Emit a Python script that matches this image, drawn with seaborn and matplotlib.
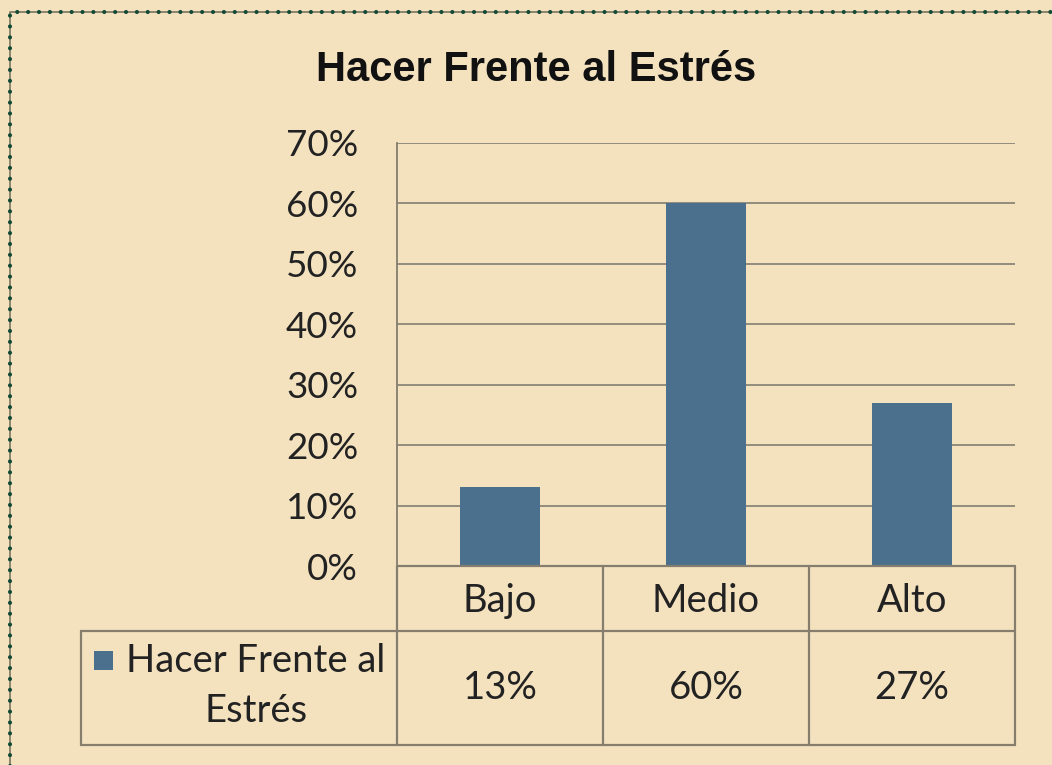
import matplotlib
matplotlib.use("Agg")
import matplotlib.pyplot as plt
import seaborn as sns
from matplotlib.patches import Rectangle
from matplotlib.ticker import PercentFormatter

CATEGORIES = ["Bajo", "Medio", "Alto"]
VALUES = [0.13, 0.60, 0.27]
VALUE_LABELS = ["13%", "60%", "27%"]
SERIES_NAME = "Hacer Frente al\nEstrés"
TITLE = "Hacer Frente al Estrés"

BG = "#F4E2BF"
BAR = "#4A708E"
GRID = "#8A8577"
TABLE_LINE = "#857E6E"
BORDER = "#124A36"
TXT = "#222222"
LABEL_FONT = ["Lato", "DejaVu Sans"]

sns.set_style("white")
plt.rcParams["font.family"] = LABEL_FONT

W, H = 1052, 765
fig = plt.figure(figsize=(W / 100, H / 100), dpi=100, facecolor=BG)

# plot area in pixel coordinates of the reference
left, right, top, bottom = 397, 1015, 143, 566
ax = fig.add_axes([left / W, 1 - bottom / H, (right - left) / W, (bottom - top) / H])
ax.set_facecolor(BG)

sns.barplot(x=CATEGORIES, y=VALUES, color=BAR, width=0.39, saturation=1,
            linewidth=0, ax=ax)
ax.set_xlim(-0.5, 2.5)
ax.set_ylim(0, 0.70)
ax.set_yticks([i / 10 for i in range(8)])
ax.yaxis.set_major_formatter(PercentFormatter(1.0, decimals=0))
ax.tick_params(axis="y", length=0, pad=28, labelsize=26.5, labelcolor=TXT)
ax.set_xticks([])
ax.grid(axis="y", color=GRID, linewidth=1.3)
ax.set_axisbelow(True)
for s in ["top", "right", "bottom"]:
    ax.spines[s].set_visible(False)
ax.spines["left"].set_color(TABLE_LINE)
ax.spines["left"].set_linewidth(1.3)

# data table below the chart (axes fraction coordinates)
ph = bottom - top
pw = right - left
row1 = -(631 - bottom) / ph
row2 = -(745 - bottom) / ph
x_leg = (81 - left) / pw
tr = ax.transAxes
kw = dict(color=TABLE_LINE, lw=1.6, transform=tr, clip_on=False)
ax.plot([0, 1], [0, 0], **kw)
ax.plot([x_leg, 1], [row1, row1], **kw)
ax.plot([x_leg, 1], [row2, row2], **kw)
ax.plot([x_leg, x_leg], [row1, row2], **kw)
for i in range(4):
    ax.plot([i / 3, i / 3], [0, row2], **kw)

for i, (cat, lab) in enumerate(zip(CATEGORIES, VALUE_LABELS)):
    xc = (i + 0.5) / 3
    ax.text(xc, row1 / 2 - 0.005, cat, transform=tr, ha="center", va="center",
            fontsize=27.5, color=TXT)
    ax.text(xc, (row1 + row2) / 2, lab, transform=tr, ha="center", va="center",
            fontsize=27.5, color=TXT)

# legend key in the table
ax.add_patch(Rectangle(((94 - left) / pw, -(670 - bottom) / ph), 19 / pw, 19 / ph,
                       transform=tr, facecolor=BAR, edgecolor="none", clip_on=False))
ax.text((256 - left) / pw, (row1 + row2) / 2 + 0.005, SERIES_NAME, transform=tr,
        ha="center", va="center", fontsize=27.5, color=TXT, linespacing=1.5)

fig.text(536 / W, 1 - 70 / H, TITLE, ha="center", va="center", fontsize=30,
         fontweight="bold", family=["Liberation Sans", "DejaVu Sans"], color="#111111")

# dotted chart border (right and bottom edges fall outside the image)
bx, by = 10 / W, 1 - 12 / H
fig.add_artist(plt.Line2D([bx, bx, 1.2], [-0.2, by, by], transform=fig.transFigure,
                          color="#7A7560", lw=1.2))
fig.add_artist(plt.Line2D([bx, bx, 1.2], [-0.2, by, by], transform=fig.transFigure,
                          color=BORDER, lw=3, linestyle=(0, (0.01, 2.6)),
                          dash_capstyle="round"))

fig.savefig("out.png", dpi=100, facecolor=BG)
